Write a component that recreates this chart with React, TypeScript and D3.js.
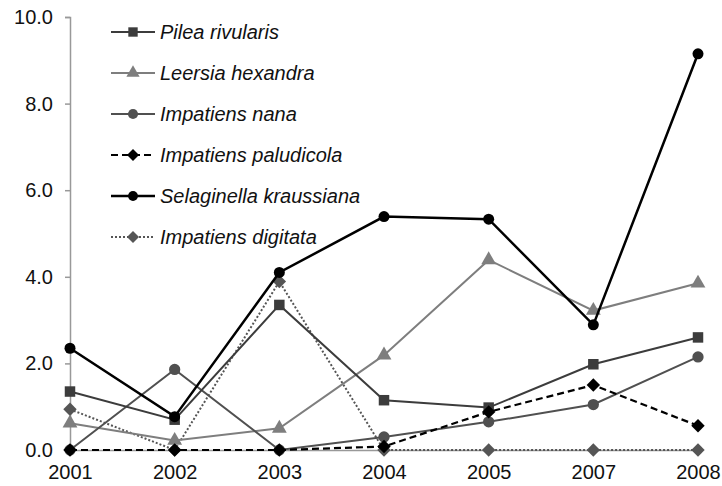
import React, { useEffect, useRef } from 'react';
import * as d3 from 'd3';

const years = ['2001', '2002', '2003', '2004', '2005', '2007', '2008'];
const yTicks = [0, 2, 4, 6, 8, 10];

const pilea = [1.35, 0.7, 3.35, 1.15, 0.98, 1.98, 2.6];
const leersia = [0.62, 0.22, 0.5, 2.19, 4.39, 3.22, 3.85];
const nana = [0, 1.86, 0, 0.3, 0.65, 1.05, 2.15];
const paludicola = [0, 0, 0, 0.08, 0.88, 1.5, 0.56];
const selaginella = [2.35, 0.77, 4.1, 5.39, 5.33, 2.89, 9.15];
const digitata = [0.94, 0, 3.89, 0, 0, 0, 0];

const seriesNames = [
  'Pilea rivularis',
  'Leersia hexandra',
  'Impatiens nana',
  'Impatiens paludicola',
  'Selaginella kraussiana',
  'Impatiens digitata',
];

const W = 722;
const H = 486;
const FONT = 'Liberation Sans, Arial, sans-serif';

const App = () => {
  const ref = useRef<SVGSVGElement>(null);

  useEffect(() => {
    const svg = d3.select(ref.current);
    svg.selectAll('*').remove();

    // styles per series, same order as the names (rot = rotate square into a diamond)
    const series = [
      { name: seriesNames[0], values: pilea, color: '#3c3c3c', dash: null, width: 2, symbol: d3.symbolSquare, size: 110, rot: 0 },
      { name: seriesNames[1], values: leersia, color: '#7e7e7e', dash: null, width: 2, symbol: d3.symbolTriangle, size: 95, rot: 0 },
      { name: seriesNames[2], values: nana, color: '#505050', dash: null, width: 2, symbol: d3.symbolCircle, size: 100, rot: 0 },
      { name: seriesNames[3], values: paludicola, color: '#000000', dash: '7,4', width: 2.2, symbol: d3.symbolSquare, size: 90, rot: 45 },
      { name: seriesNames[4], values: selaginella, color: '#000000', dash: null, width: 2.5, symbol: d3.symbolCircle, size: 95, rot: 0 },
      { name: seriesNames[5], values: digitata, color: '#555555', dash: '2,2', width: 2, symbol: d3.symbolSquare, size: 90, rot: 45 },
    ];

    const x = d3.scalePoint<string>().domain(years).range([70, 698]);
    const y = d3.scaleLinear().domain([0, 10]).range([450, 17]);

    const g = svg.append('g');

    // y axis
    const yAxis = g.append('g')
      .attr('transform', 'translate(70,0)')
      .call(d3.axisLeft(y).tickValues(yTicks).tickSize(5).tickPadding(12).tickFormat(d3.format('.1f')));
    yAxis.select('.domain').attr('stroke', '#999').attr('stroke-width', 1.5);
    yAxis.selectAll('.tick line').attr('stroke', '#999').attr('stroke-width', 1.5);
    yAxis.selectAll('.tick text')
      .attr('fill', '#111')
      .style('font-family', FONT)
      .style('font-size', '20px');

    // x axis
    const xAxis = g.append('g')
      .attr('transform', 'translate(0,450)')
      .call(d3.axisBottom(x).tickSize(0).tickPadding(15));
    xAxis.select('.domain').attr('stroke', '#999').attr('stroke-width', 1.5);
    xAxis.selectAll('.tick text')
      .attr('fill', '#111')
      .style('font-family', FONT)
      .style('font-size', '20px');

    const line = d3.line<number>()
      .x((d, i) => x(years[i]) as number)
      .y(d => y(d));

    // draw lines, bottom layer first
    const drawOrder = [5, 1, 2, 0, 3, 4];
    drawOrder.forEach(k => {
      const s = series[k];
      g.append('path')
        .datum(s.values)
        .attr('d', line)
        .attr('fill', 'none')
        .attr('stroke', s.color)
        .attr('stroke-width', s.width)
        .attr('stroke-dasharray', s.dash);
      g.append('g')
        .selectAll('path')
        .data(s.values)
        .join('path')
          .attr('transform', (d, i) => `translate(${x(years[i])},${y(d)}) rotate(${s.rot})`)
          .attr('d', d3.symbol().type(s.symbol).size(s.size)())
          .attr('fill', s.color);
    });

    // legend
    const legend = g.append('g');
    series.forEach((s, i) => {
      const ly = 32 + i * 41;
      legend.append('line')
        .attr('x1', 111).attr('x2', 155)
        .attr('y1', ly).attr('y2', ly)
        .attr('stroke', s.color)
        .attr('stroke-width', s.width)
        .attr('stroke-dasharray', s.dash);
      legend.append('path')
        .attr('transform', `translate(133,${ly}) rotate(${s.rot})`)
        .attr('d', d3.symbol().type(s.symbol).size(s.size * 0.8)())
        .attr('fill', s.color);
      legend.append('text')
        .attr('x', 160).attr('y', ly)
        .attr('dy', '0.35em')
        .attr('fill', '#111')
        .style('font-family', FONT)
        .style('font-style', 'italic')
        .style('font-size', '20px')
        .text(s.name);
    });
  }, []);

  return (
    <div>
      <svg ref={ref} width={W} height={H} style={{ position: 'absolute', left: 0, top: 0, background: '#fff' }}></svg>
    </div>
  );
};

export default App;
